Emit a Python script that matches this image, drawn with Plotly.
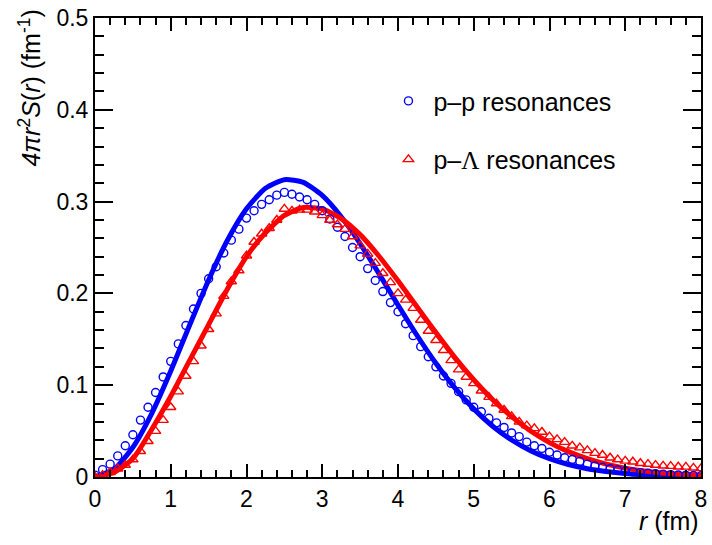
import plotly.graph_objects as go

# --- data -------------------------------------------------------------
r_points = [round(0.1 * i, 1) for i in range(81)]

pp_points = [
    0.002, 0.008, 0.014, 0.023, 0.034, 0.046, 0.062, 0.076, 0.092, 0.109,
    0.126, 0.145, 0.165, 0.183, 0.200, 0.216, 0.229, 0.244, 0.258, 0.270,
    0.282, 0.290, 0.297, 0.302, 0.307, 0.310, 0.308, 0.305, 0.302, 0.297,
    0.290, 0.281, 0.272, 0.262, 0.250, 0.240, 0.227, 0.214, 0.202, 0.190,
    0.180, 0.167, 0.154, 0.142, 0.131, 0.120, 0.110, 0.102, 0.093, 0.084,
    0.076, 0.071, 0.064, 0.059, 0.054, 0.048, 0.044, 0.038, 0.034, 0.031,
    0.027, 0.024, 0.021, 0.019, 0.017, 0.014, 0.012, 0.0105, 0.009, 0.0076,
    0.0065, 0.0056, 0.0048, 0.0041, 0.0035, 0.0030, 0.0026, 0.0022, 0.0019, 0.0016,
    0.0014,
]

pl_points = [
    0.000, 0.002, 0.005, 0.009, 0.013, 0.019, 0.028, 0.039, 0.050, 0.062,
    0.076, 0.093, 0.110, 0.126, 0.143, 0.161, 0.178, 0.197, 0.213, 0.225,
    0.241, 0.256, 0.265, 0.271, 0.280, 0.292, 0.290, 0.291, 0.291, 0.289,
    0.285, 0.280, 0.275, 0.270, 0.262, 0.252, 0.243, 0.233, 0.222, 0.212,
    0.200, 0.193, 0.184, 0.171, 0.159, 0.149, 0.138, 0.127, 0.117, 0.109,
    0.102, 0.094, 0.087, 0.080, 0.073, 0.066, 0.060, 0.056, 0.053, 0.049,
    0.044, 0.041, 0.038, 0.034, 0.032, 0.029, 0.026, 0.024, 0.021, 0.019,
    0.0176, 0.0166, 0.0150, 0.0141, 0.0130, 0.0122, 0.0118, 0.0112, 0.0110, 0.0100,
    0.0094,
]

r_curve = [round(0.25 * i, 2) for i in range(33)]

pp_curve = [
    0.0, 0.0083, 0.0324, 0.0694, 0.1155, 0.1656, 0.2147, 0.2582, 0.2922, 0.3146,
    0.3239, 0.3209, 0.3067, 0.2835, 0.2543, 0.2213, 0.1874, 0.1544, 0.1239, 0.0971,
    0.0742, 0.0553, 0.0403, 0.0286, 0.0199, 0.0136, 0.0090, 0.0059, 0.0037, 0.0023,
    0.0014, 0.0008, 0.0005,
]

pl_curve = [
    0.0, 0.005, 0.020, 0.052, 0.088, 0.127, 0.166, 0.205, 0.240, 0.266,
    0.285, 0.2935, 0.292, 0.2815, 0.264, 0.2405, 0.2137, 0.1855, 0.1574, 0.1304,
    0.1059, 0.0842, 0.0657, 0.0501, 0.0375, 0.0276, 0.0199, 0.0140, 0.0097, 0.0066,
    0.0044, 0.0029, 0.0019,
]

x_ticks = [0, 1, 2, 3, 4, 5, 6, 7, 8]
y_ticks = [0, 0.1, 0.2, 0.3, 0.4, 0.5]
y_tick_labels = ["0", "0.1", "0.2", "0.3", "0.4", "0.5"]

BLUE = "#0000ff"
RED = "#ff0000"
FONT = "Liberation Sans, Arial, sans-serif"

fig = go.Figure()

fig.add_trace(go.Scatter(x=r_curve, y=pp_curve, mode="lines", line=dict(color=BLUE, width=5, shape="spline", smoothing=0.6),
                         showlegend=False, hoverinfo="skip"))
fig.add_trace(go.Scatter(x=r_curve, y=pl_curve, mode="lines", line=dict(color=RED, width=5, shape="spline", smoothing=0.6),
                         showlegend=False, hoverinfo="skip"))
fig.add_trace(go.Scatter(x=r_points, y=pp_points, mode="markers", name="p\u2013p resonances",
                         legendgroup="a",
                         marker=dict(symbol="circle-open", size=8, color=BLUE, line=dict(width=1.4, color=BLUE))))
fig.add_trace(go.Scatter(x=r_points, y=pl_points, mode="markers",
                         name="p\u2013<span style='font-family:Liberation Serif, Times New Roman, serif'>\u039b</span> resonances",
                         legendgroup="b",
                         marker=dict(symbol="triangle-up-open", size=9, color=RED, line=dict(width=1.4, color=RED))))

axis_common = dict(
    showgrid=False, zeroline=False, showline=True, linecolor="black", linewidth=2,
    mirror="allticks", ticks="inside", tickcolor="black", tickwidth=2,
    tickfont=dict(family=FONT, size=23, color="black"),
)

fig.update_xaxes(range=[0, 8], tickvals=x_ticks, ticklen=13,
                 minor=dict(dtick=0.2, ticks="inside", ticklen=7, tickcolor="black", tickwidth=1.5),
                 **axis_common)
fig.update_yaxes(range=[0, 0.5], tickvals=y_ticks, ticktext=y_tick_labels, ticklen=18,
                 minor=dict(dtick=0.02, ticks="inside", ticklen=9, tickcolor="black", tickwidth=1.5),
                 **axis_common)

fig.add_annotation(text="<i>r</i> (fm)", xref="paper", yref="paper", x=1.0, y=-0.06,
                   xanchor="right", yanchor="top", showarrow=False,
                   font=dict(family=FONT, size=25, color="black"))
fig.add_annotation(text="<i>4\u03c0r</i><sup>2</sup><i>S</i>(<i>r</i>) (fm<sup>-1</sup>)",
                   xref="paper", yref="paper", x=-0.107, y=1.022, textangle=-90,
                   xanchor="center", yanchor="top", showarrow=False,
                   font=dict(family=FONT, size=25, color="black"))

fig.update_layout(
    width=712, height=545,
    margin=dict(l=95, r=5, t=15, b=68),
    paper_bgcolor="white", plot_bgcolor="white",
    legend=dict(x=0.476, y=0.869, xanchor="left", yanchor="top", bgcolor="rgba(0,0,0,0)",
                font=dict(family=FONT, size=25, color="black"), tracegroupgap=23,
                traceorder="grouped", itemwidth=40),
)

fig.write_html("out.html", config={"displayModeBar": False},
               post_script="document.body.style.margin='0';document.body.style.padding='0';")
